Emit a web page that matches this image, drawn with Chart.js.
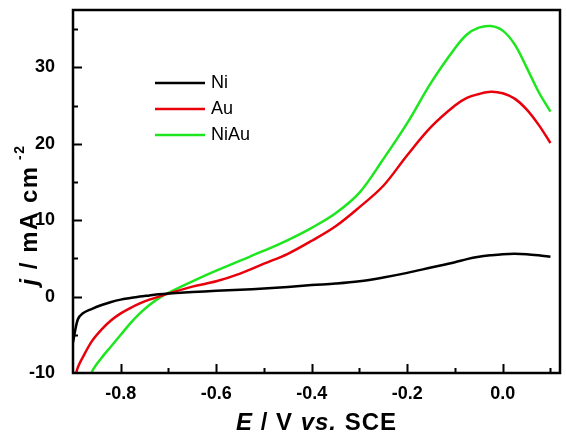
<!DOCTYPE html>
<html>
<head>
<meta charset="utf-8">
<script src="https://cdn.jsdelivr.net/npm/chart.js@4/dist/chart.umd.min.js"></script>
<style>
  html, body { margin: 0; padding: 0; background: #fff; }
  #wrap { width: 566px; height: 436px; }
</style>
</head>
<body>
<div id="wrap"><canvas id="cv"></canvas></div>
<script>
// potential E / V vs. SCE
const potential = [-0.9, -0.89, -0.88, -0.86, -0.84, -0.82, -0.80, -0.78, -0.76, -0.74, -0.72, -0.70,
  -0.65, -0.60, -0.55, -0.50, -0.45, -0.40, -0.35, -0.30, -0.25, -0.20, -0.15, -0.10,
  -0.075, -0.05, -0.025, 0.0, 0.025, 0.05, 0.075, 0.10]

// current density j / mA cm-2
const niCurrent = [-6.0, -3.0, -2.2, -1.6, -1.1, -0.7, -0.4, -0.2, 0.0, 0.15, 0.3, 0.4,
  0.6, 0.75, 0.9, 1.05, 1.25, 1.5, 1.7, 2.0, 2.5, 3.1, 3.8, 4.5,
  4.9, 5.2, 5.4, 5.55, 5.6, 5.55, 5.4, 5.2]
const auCurrent = [-11.5, -9.3, -8.0, -5.8, -4.3, -3.1, -2.2, -1.5, -0.9, -0.4, 0.0, 0.4,
  1.3, 2.0, 3.0, 4.3, 5.6, 7.3, 9.2, 11.7, 14.5, 18.5, 22.2, 25.0,
  26.0, 26.5, 26.8, 26.6, 25.9, 24.5, 22.5, 20.1]
const niAuCurrent = [null, null, -13.0, -9.8, -8.0, -6.5, -5.0, -3.5, -2.2, -1.1, -0.2, 0.5,
  2.0, 3.4, 4.7, 6.0, 7.4, 9.0, 10.9, 13.6, 18.0, 22.7, 28.0, 32.5,
  34.3, 35.2, 35.4, 34.8, 33.0, 30.0, 26.8, 24.2]

const seriesNames = ['Ni', 'Au', 'NiAu']
const seriesColors = ['#000000', '#e8000b', '#1ee61e']

const xMinorTicks = [-0.8, -0.7, -0.6, -0.5, -0.4, -0.3, -0.2, -0.1, 0.0, 0.1]
const yMinorTicks = [-5, 0, 5, 10, 15, 20, 25, 30, 35]

const toPoints = values => potential.map((e, i) => ({ x: e, y: values[i] }))

const tickFont = { family: 'Liberation Sans, Arial, sans-serif', size: 18, weight: 'bold' }

// frame, inward ticks, legend and axis titles
const decor = {
  id: 'decor',
  afterDraw (chart) {
    const ctx = chart.ctx
    const a = chart.chartArea
    const xs = chart.scales.x
    const ys = chart.scales.y
    ctx.save()
    ctx.strokeStyle = '#000'
    ctx.lineWidth = 2
    ctx.beginPath()
    xMinorTicks.forEach(v => {
      const px = Math.round(xs.getPixelForValue(v)) + 0.5
      const len = Math.round(v * 10) % 2 === 0 ? 9 : 5
      ctx.moveTo(px, a.bottom)
      ctx.lineTo(px, a.bottom - len)
    })
    yMinorTicks.forEach(v => {
      const py = Math.round(ys.getPixelForValue(v)) + 0.5
      const len = v % 10 === 0 ? 9 : 5
      ctx.moveTo(a.left, py)
      ctx.lineTo(a.left + len, py)
    })
    ctx.stroke()
    ctx.lineWidth = 2.5
    ctx.strokeRect(a.left, a.top, a.right - a.left, a.bottom - a.top)

    // legend
    ctx.font = '18px Liberation Sans, Arial, sans-serif'
    ctx.textBaseline = 'middle'
    ctx.fillStyle = '#000'
    chart.data.datasets.forEach((ds, i) => {
      const y = a.top + 73 + i * 26
      ctx.strokeStyle = ds.borderColor
      ctx.lineWidth = 2.5
      ctx.beginPath()
      ctx.moveTo(a.left + 82, y)
      ctx.lineTo(a.left + 132, y)
      ctx.stroke()
      ctx.fillText(ds.label, a.left + 138, y)
    })

    // axis titles
    const parts = (list, size) => list.map(p => {
      ctx.font = (p.it ? 'italic ' : '') + 'bold ' + (p.sup ? Math.round(size * 0.6) : size) + 'px Liberation Sans, Arial, sans-serif'
      return Object.assign({}, p, { font: ctx.font, w: ctx.measureText(p.t).width })
    })
    const drawParts = (list, x, y) => {
      list.forEach(p => {
        ctx.font = p.font
        ctx.fillText(p.t, x, p.sup ? y - 13 : y)
        x += p.w
      })
    }
    ctx.fillStyle = '#000'
    ctx.textBaseline = 'alphabetic'
    ctx.letterSpacing = '1px'
    const xTitle = parts([{ t: 'E', it: true }, { t: ' / V ' }, { t: 'vs.', it: true }, { t: ' SCE' }], 24)
    const xw = xTitle.reduce((s, p) => s + p.w, 0)
    drawParts(xTitle, (a.left + a.right) / 2 - xw / 2, 430)

    ctx.letterSpacing = '1.5px'
    const yTitle = parts([{ t: 'j', it: true }, { t: ' / mA cm' }, { t: ' -2', sup: true }], 24)
    const yw = yTitle.reduce((s, p) => s + p.w, 0)
    ctx.translate(37, 215)
    ctx.rotate(-Math.PI / 2)
    drawParts(yTitle, -yw / 2, 0)
    ctx.restore()
  }
}

new Chart(document.getElementById('cv'), {
  type: 'line',
  data: {
    datasets: [
      { label: seriesNames[0], data: toPoints(niCurrent), borderColor: seriesColors[0] },
      { label: seriesNames[1], data: toPoints(auCurrent), borderColor: seriesColors[1] },
      { label: seriesNames[2], data: toPoints(niAuCurrent), borderColor: seriesColors[2] }
    ]
  },
  options: {
    responsive: true,
    maintainAspectRatio: false,
    animation: false,
    layout: { padding: { top: 10, right: 6, left: 0, bottom: 0 } },
    elements: {
      point: { radius: 0 },
      line: { borderWidth: 2.5, tension: 0.35, fill: false }
    },
    plugins: { legend: { display: false }, tooltip: { enabled: false } },
    scales: {
      x: {
        type: 'linear',
        min: -0.9,
        max: 0.12,
        grid: { display: false },
        border: { display: false },
        ticks: {
          stepSize: 0.2,
          includeBounds: false,
          color: '#000',
          font: tickFont,
          padding: 2,
          maxRotation: 0,
          callback: v => v.toFixed(1)
        },
        afterFit (scale) {
          scale.height = 63
          scale.paddingLeft = 0
          scale.paddingRight = 0
        }
      },
      y: {
        min: -10,
        max: 37.5,
        grid: { display: false },
        border: { display: false },
        ticks: {
          stepSize: 10,
          includeBounds: false,
          color: '#000',
          font: tickFont,
          padding: 10
        },
        afterFit (scale) {
          scale.width = 73
          scale.paddingTop = 0
          scale.paddingBottom = 0
        }
      }
    }
  },
  plugins: [decor]
})
</script>
</body>
</html>
